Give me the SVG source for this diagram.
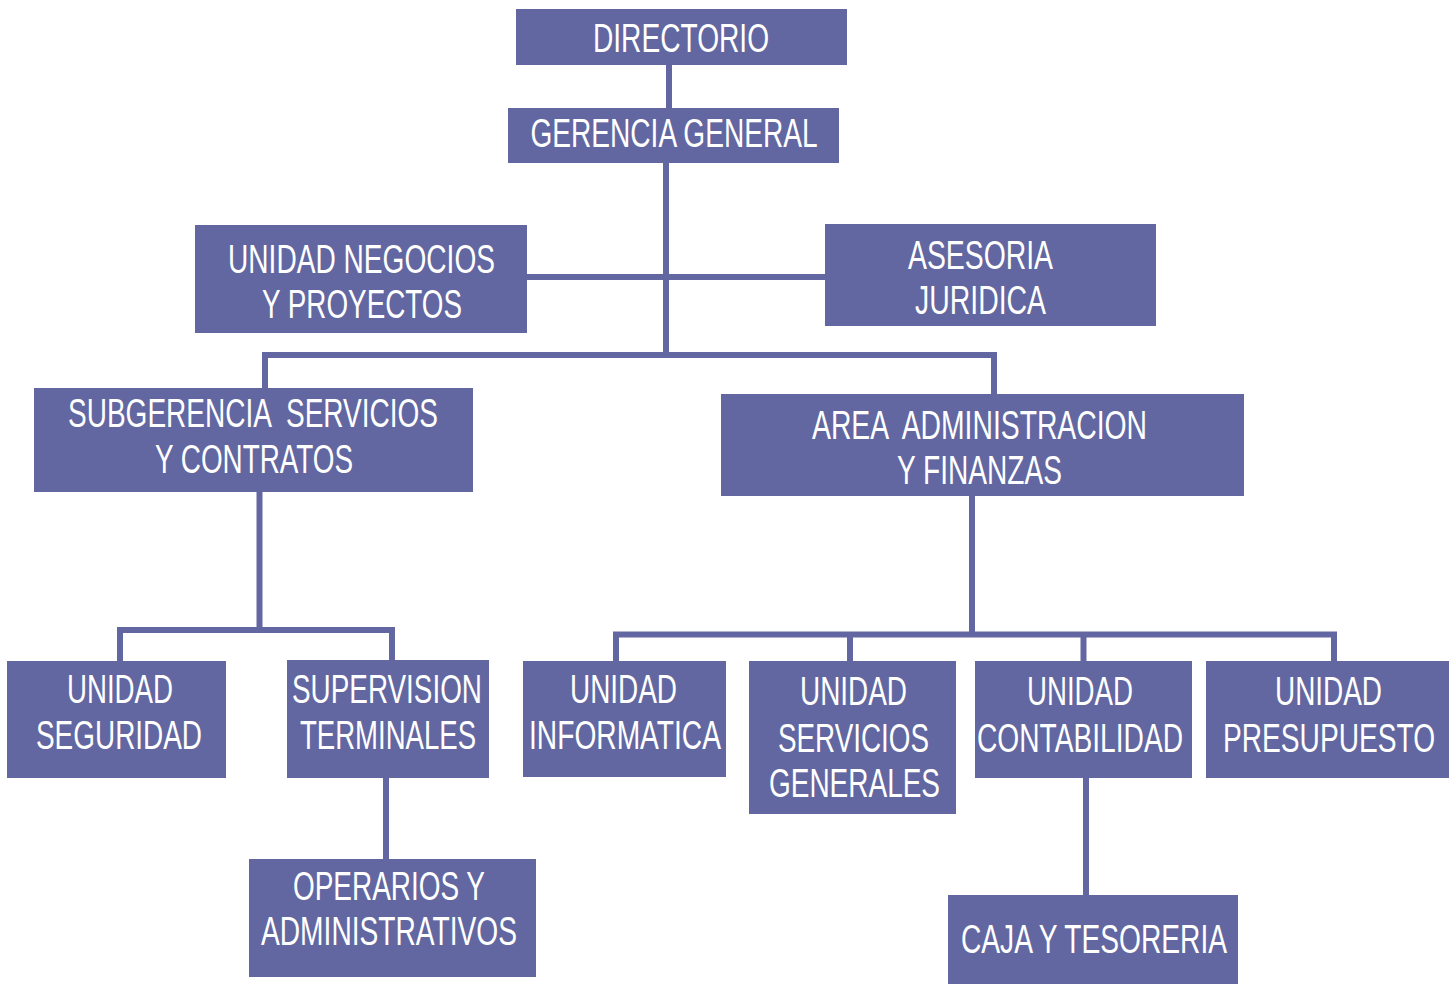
<svg xmlns="http://www.w3.org/2000/svg" width="1456" height="984" viewBox="0 0 1456 984">
<style>
.box{fill:#6267a1}
.lbl{fill:#ffffff;font-family:"Liberation Sans Narrow","Liberation Sans",Arial,sans-serif;font-size:40px;text-anchor:middle;white-space:pre}
.con{stroke:#6267a1;stroke-width:6;fill:none;stroke-linecap:butt}
</style>
<rect width="1456" height="984" fill="#ffffff"/>
<g id="connectors">
<line class="con" x1="669" y1="64" x2="669" y2="109"/>
<line class="con" x1="666" y1="162" x2="666" y2="358"/>
<line class="con" x1="526" y1="277" x2="826" y2="277"/>
<line class="con" x1="262" y1="355" x2="997" y2="355"/>
<line class="con" x1="265" y1="352" x2="265" y2="389"/>
<line class="con" x1="994" y1="352" x2="994" y2="395"/>
<line class="con" x1="259.5" y1="490" x2="259.5" y2="633"/>
<line class="con" x1="117" y1="630" x2="395" y2="630"/>
<line class="con" x1="120" y1="627" x2="120" y2="662"/>
<line class="con" x1="392" y1="627" x2="392" y2="661"/>
<line class="con" x1="386" y1="776" x2="386" y2="859"/>
<line class="con" x1="972" y1="494" x2="972" y2="637"/>
<line class="con" x1="613" y1="634.5" x2="1337" y2="634.5"/>
<line class="con" x1="616" y1="632" x2="616" y2="662"/>
<line class="con" x1="850" y1="632" x2="850" y2="662"/>
<line class="con" x1="1083.5" y1="632" x2="1083.5" y2="661"/>
<line class="con" x1="1334" y1="632" x2="1334" y2="661"/>
<line class="con" x1="1086" y1="776" x2="1086" y2="895"/>
</g>
<g id="directorio">
<rect class="box" x="516" y="9" width="331" height="56"/>
<text class="lbl" x="681" y="52" textLength="176" lengthAdjust="spacingAndGlyphs">DIRECTORIO</text>
</g>
<g id="gerencia-general">
<rect class="box" x="508" y="108" width="331" height="55"/>
<text class="lbl" x="674" y="147" textLength="287" lengthAdjust="spacingAndGlyphs">GERENCIA GENERAL</text>
</g>
<g id="unidad-negocios">
<rect class="box" x="195" y="225" width="332" height="108"/>
<text class="lbl" x="361.5" y="273" textLength="267" lengthAdjust="spacingAndGlyphs">UNIDAD NEGOCIOS</text>
<text class="lbl" x="362" y="318" textLength="200" lengthAdjust="spacingAndGlyphs">Y PROYECTOS</text>
</g>
<g id="asesoria-juridica">
<rect class="box" x="825" y="224" width="331" height="102"/>
<text class="lbl" x="980.5" y="269" textLength="145" lengthAdjust="spacingAndGlyphs">ASESORIA</text>
<text class="lbl" x="980.5" y="314" textLength="131" lengthAdjust="spacingAndGlyphs">JURIDICA</text>
</g>
<g id="subgerencia">
<rect class="box" x="34" y="388" width="439" height="104"/>
<text class="lbl" x="253" y="427" textLength="370" lengthAdjust="spacingAndGlyphs" xml:space="preserve">SUBGERENCIA  SERVICIOS</text>
<text class="lbl" x="254" y="473" textLength="198" lengthAdjust="spacingAndGlyphs">Y CONTRATOS</text>
</g>
<g id="area-administracion">
<rect class="box" x="721" y="394" width="523" height="102"/>
<text class="lbl" x="979.5" y="439" textLength="335" lengthAdjust="spacingAndGlyphs" xml:space="preserve">AREA  ADMINISTRACION</text>
<text class="lbl" x="979.5" y="484" textLength="165" lengthAdjust="spacingAndGlyphs">Y FINANZAS</text>
</g>
<g id="unidad-seguridad">
<rect class="box" x="7" y="661" width="219" height="117"/>
<text class="lbl" x="120" y="703" textLength="106" lengthAdjust="spacingAndGlyphs">UNIDAD</text>
<text class="lbl" x="119" y="749" textLength="166" lengthAdjust="spacingAndGlyphs">SEGURIDAD</text>
</g>
<g id="supervision-terminales">
<rect class="box" x="287" y="660" width="202" height="118"/>
<text class="lbl" x="387" y="703" textLength="190" lengthAdjust="spacingAndGlyphs">SUPERVISION</text>
<text class="lbl" x="388" y="749" textLength="176" lengthAdjust="spacingAndGlyphs">TERMINALES</text>
</g>
<g id="operarios">
<rect class="box" x="249" y="859" width="287" height="118"/>
<text class="lbl" x="389" y="900" textLength="192" lengthAdjust="spacingAndGlyphs">OPERARIOS Y</text>
<text class="lbl" x="389" y="945" textLength="256" lengthAdjust="spacingAndGlyphs">ADMINISTRATIVOS</text>
</g>
<g id="unidad-informatica">
<rect class="box" x="523" y="661" width="203" height="116"/>
<text class="lbl" x="623.5" y="703" textLength="107" lengthAdjust="spacingAndGlyphs">UNIDAD</text>
<text class="lbl" x="625" y="749" textLength="192" lengthAdjust="spacingAndGlyphs">INFORMATICA</text>
</g>
<g id="unidad-servicios-generales">
<rect class="box" x="749" y="661" width="207" height="153"/>
<text class="lbl" x="853.5" y="705" textLength="107" lengthAdjust="spacingAndGlyphs">UNIDAD</text>
<text class="lbl" x="853.5" y="752" textLength="151" lengthAdjust="spacingAndGlyphs">SERVICIOS</text>
<text class="lbl" x="854.5" y="797" textLength="171" lengthAdjust="spacingAndGlyphs">GENERALES</text>
</g>
<g id="unidad-contabilidad">
<rect class="box" x="975" y="661" width="217" height="117"/>
<text class="lbl" x="1080" y="705" textLength="106" lengthAdjust="spacingAndGlyphs">UNIDAD</text>
<text class="lbl" x="1080" y="752" textLength="206" lengthAdjust="spacingAndGlyphs">CONTABILIDAD</text>
</g>
<g id="unidad-presupuesto">
<rect class="box" x="1206" y="661" width="243" height="117"/>
<text class="lbl" x="1328.5" y="705" textLength="107" lengthAdjust="spacingAndGlyphs">UNIDAD</text>
<text class="lbl" x="1329" y="752" textLength="212" lengthAdjust="spacingAndGlyphs">PRESUPUESTO</text>
</g>
<g id="caja-tesoreria">
<rect class="box" x="948" y="895" width="290" height="89"/>
<text class="lbl" x="1094" y="953" textLength="266" lengthAdjust="spacingAndGlyphs">CAJA Y TESORERIA</text>
</g>
</svg>
